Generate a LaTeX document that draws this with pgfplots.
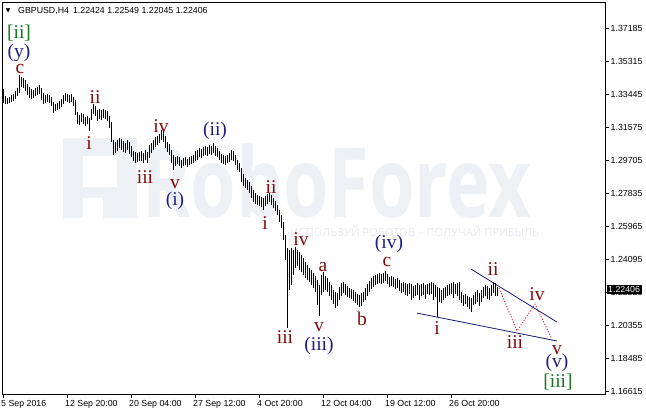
\documentclass[border=0pt]{standalone}
\usepackage{fontspec}
\setmainfont{Liberation Sans}
\newfontfamily\wavefont{Liberation Serif}
\newfontfamily\wmfont{Open Sans}
\newfontfamily\symfont{DejaVu Sans}
\usepackage{pgfplots}
\usepackage{pgfplotstable}
\pgfplotsset{compat=1.18}
\definecolor{wred}{RGB}{135,10,10}
\definecolor{wblue}{RGB}{30,30,135}
\definecolor{wgreen}{RGB}{20,120,30}
\definecolor{wm}{RGB}{237,240,244}
\definecolor{wmtwo}{RGB}{230,233,238}
\definecolor{navyl}{RGB}{25,25,112}
\definecolor{reddot}{RGB}{225,30,60}
\newcommand\wl{\wavefont\fontsize{19.5bp}{20bp}\selectfont}
\newcommand\tl{\fontsize{8.8bp}{10bp}\selectfont}

\pgfplotstableread{
i h l
0 1.3375 1.3296
1 1.3336 1.3290
2 1.3324 1.3290
3 1.3330 1.3296
4 1.3341 1.3302
5 1.3347 1.3307
6 1.3364 1.3319
7 1.3381 1.3336
8 1.3455 1.3353
9 1.3443 1.3387
10 1.3438 1.3381
11 1.3426 1.3364
12 1.3404 1.3341
13 1.3387 1.3324
14 1.3375 1.3319
15 1.3370 1.3324
16 1.3381 1.3336
17 1.3387 1.3341
18 1.3398 1.3347
19 1.3381 1.3313
20 1.3353 1.3290
21 1.3341 1.3296
22 1.3347 1.3302
23 1.3341 1.3296
24 1.3330 1.3279
25 1.3302 1.3239
26 1.3290 1.3251
27 1.3296 1.3256
28 1.3307 1.3262
29 1.3319 1.3273
30 1.3341 1.3290
31 1.3353 1.3307
32 1.3347 1.3302
33 1.3341 1.3296
34 1.3347 1.3302
35 1.3330 1.3279
36 1.3313 1.3228
37 1.3245 1.3177
38 1.3228 1.3172
39 1.3239 1.3188
40 1.3234 1.3177
41 1.3217 1.3166
42 1.3222 1.3177
43 1.3211 1.3138
44 1.3262 1.3200
45 1.3290 1.3234
46 1.3279 1.3222
47 1.3256 1.3194
48 1.3262 1.3205
49 1.3256 1.3200
50 1.3262 1.3211
51 1.3256 1.3205
52 1.3251 1.3194
53 1.3222 1.3155
54 1.3188 1.3075
55 1.3087 1.3002
56 1.3075 1.3013
57 1.3087 1.3024
58 1.3098 1.3041
59 1.3092 1.3030
60 1.3081 1.3019
61 1.3070 1.3013
62 1.3087 1.3030
63 1.3075 1.3007
64 1.3053 1.2990
65 1.3024 1.2968
66 1.3019 1.2956
67 1.3013 1.2962
68 1.3019 1.2968
69 1.3024 1.2968
70 1.3013 1.2956
71 1.3030 1.2973
72 1.3019 1.2956
73 1.3058 1.2985
74 1.3070 1.3013
75 1.3087 1.3030
76 1.3104 1.3047
77 1.3109 1.3058
78 1.3121 1.3070
79 1.3143 1.3087
80 1.3138 1.3075
81 1.3109 1.3041
82 1.3075 1.3019
83 1.3064 1.3002
84 1.3030 1.2956
85 1.3002 1.2917
86 1.2990 1.2939
87 1.2996 1.2951
88 1.2990 1.2939
89 1.2973 1.2928
90 1.2985 1.2939
91 1.2990 1.2945
92 1.2979 1.2934
93 1.2990 1.2945
94 1.2996 1.2951
95 1.3002 1.2956
96 1.3024 1.2968
97 1.3030 1.2973
98 1.3041 1.2990
99 1.3036 1.2985
100 1.3047 1.2996
101 1.3053 1.3002
102 1.3047 1.2996
103 1.3058 1.3007
104 1.3053 1.3002
105 1.3070 1.3013
106 1.3053 1.2996
107 1.3041 1.2990
108 1.3024 1.2973
109 1.3007 1.2956
110 1.3002 1.2951
111 1.2996 1.2945
112 1.3002 1.2956
113 1.3013 1.2962
114 1.3030 1.2973
115 1.3024 1.2968
116 1.3002 1.2945
117 1.2973 1.2917
118 1.2956 1.2905
119 1.2928 1.2849
120 1.2894 1.2826
121 1.2872 1.2815
122 1.2860 1.2804
123 1.2849 1.2787
124 1.2826 1.2758
125 1.2804 1.2736
126 1.2787 1.2724
127 1.2775 1.2719
128 1.2770 1.2713
129 1.2764 1.2707
130 1.2758 1.2690
131 1.2770 1.2713
132 1.2781 1.2724
133 1.2787 1.2736
134 1.2775 1.2719
135 1.2758 1.2702
136 1.2741 1.2685
137 1.2719 1.2662
138 1.2690 1.2622
139 1.2662 1.2589
140 1.2622 1.2521
141 1.2549 1.2407
142 1.2475 1.2023
143 1.2464 1.2238
144 1.2475 1.2266
145 1.2464 1.2323
146 1.2481 1.2362
147 1.2464 1.2373
148 1.2453 1.2351
149 1.2436 1.2340
150 1.2419 1.2323
151 1.2396 1.2306
152 1.2379 1.2294
153 1.2362 1.2283
154 1.2351 1.2266
155 1.2334 1.2249
156 1.2317 1.2226
157 1.2294 1.2153
158 1.2266 1.2090
159 1.2323 1.2209
160 1.2340 1.2226
161 1.2317 1.2238
162 1.2306 1.2226
163 1.2283 1.2204
164 1.2266 1.2181
165 1.2238 1.2158
166 1.2226 1.2136
167 1.2221 1.2147
168 1.2255 1.2181
169 1.2277 1.2204
170 1.2283 1.2221
171 1.2272 1.2209
172 1.2260 1.2198
173 1.2249 1.2192
174 1.2243 1.2187
175 1.2238 1.2175
176 1.2226 1.2164
177 1.2215 1.2153
178 1.2209 1.2141
179 1.2221 1.2147
180 1.2226 1.2170
181 1.2249 1.2181
182 1.2272 1.2204
183 1.2289 1.2226
184 1.2306 1.2243
185 1.2317 1.2255
186 1.2323 1.2266
187 1.2328 1.2272
188 1.2334 1.2277
189 1.2328 1.2272
190 1.2334 1.2277
191 1.2345 1.2289
192 1.2328 1.2272
193 1.2311 1.2255
194 1.2317 1.2260
195 1.2311 1.2255
196 1.2300 1.2243
197 1.2306 1.2249
198 1.2294 1.2232
199 1.2277 1.2221
200 1.2283 1.2226
201 1.2277 1.2209
202 1.2272 1.2204
203 1.2277 1.2215
204 1.2272 1.2181
205 1.2260 1.2192
206 1.2266 1.2204
207 1.2277 1.2209
208 1.2266 1.2181
209 1.2272 1.2204
210 1.2277 1.2209
211 1.2266 1.2187
212 1.2272 1.2215
213 1.2277 1.2209
214 1.2283 1.2215
215 1.2277 1.2181
216 1.2266 1.2198
217 1.2255 1.2085
218 1.2249 1.2170
219 1.2238 1.2164
220 1.2249 1.2181
221 1.2255 1.2192
222 1.2266 1.2204
223 1.2272 1.2209
224 1.2277 1.2215
225 1.2283 1.2192
226 1.2272 1.2215
227 1.2277 1.2204
228 1.2283 1.2181
229 1.2226 1.2164
230 1.2209 1.2147
231 1.2215 1.2158
232 1.2204 1.2141
233 1.2198 1.2130
234 1.2192 1.2113
235 1.2209 1.2153
236 1.2226 1.2158
237 1.2238 1.2170
238 1.2221 1.2147
239 1.2238 1.2170
240 1.2255 1.2192
241 1.2266 1.2204
242 1.2260 1.2187
243 1.2249 1.2181
244 1.2266 1.2204
245 1.2283 1.2221
246 1.2277 1.2204
247 1.22549 1.22045
}\bars

\begin{document}
\begin{tikzpicture}
\useasboundingbox (-2.5bp,-19.7bp) rectangle (643.5bp,394.3bp);
% watermark
\begin{scope}[x=1bp,y=1bp]
  \fill[wm] (60.5,176.3) rectangle (134.5,256.3);
  \fill[white] (80,207) rectangle (114,238);
  \fill[white] (80,176.3) rectangle (100,196);
  \node[anchor=base west, inner sep=0, text=wm, xscale=0.76] at (139.5,177.3)
    {\wmfont\fontsize{97bp}{97bp}\selectfont\bfseries RoboForex};
  \node[anchor=west, inner sep=0, text=wmtwo] at (287.5,163.3)
    {\wmfont\fontsize{11.2bp}{12bp}\selectfont ИСПОЛЬЗУЙ РОБОТОВ – ПОЛУЧАЙ ПРИБЫЛЬ};
\end{scope}
\begin{axis}[
  at={(0bp,0bp)}, anchor=south west,
  scale only axis, width=602.5bp, height=392bp,
  xmin=-0.25, xmax=301, ymin=1.16473, ymax=1.3866,
  axis line style={line width=0.8bp},
  tick align=outside, xtick pos=left, ytick pos=right,
  major tick length=3.5bp,
  tick style={black, line width=0.8bp},
  xtick={0,32,64,96,128,160,192,224},
  xticklabels={5 Sep 2016,12 Sep 20:00,20 Sep 04:00,27 Sep 12:00,4 Oct 20:00,12 Oct 04:00,19 Oct 12:00,26 Oct 20:00},
  ytick={1.16615,1.18485,1.20355,1.22225,1.24095,1.25965,1.27835,1.29705,1.31575,1.33445,1.35315,1.37185},
  yticklabels={1.16615,1.18485,1.20355,1.22225,1.24095,1.25965,1.27835,1.29705,1.31575,1.33445,1.35315,1.37185},
  ticklabel style={font=\tl},
  xticklabel style={anchor=north west, inner sep=0pt, xshift=-2bp, yshift=-2bp},
  yticklabel style={anchor=west, inner sep=0pt, xshift=2bp},
  clip=false,
]
\addplot[black, line width=0.6bp, quiver={u=0, v=\thisrow{h}-\thisrow{l}}] table[x=i, y=l] {\bars};

\addplot[navyl, line width=0.8bp] coordinates {(234,1.2356) (277,1.2056)};
\addplot[navyl, line width=0.8bp] coordinates {(207,1.2107) (277,1.1949)};
\addplot[reddot, line width=0.8bp, dash pattern=on 1.2bp off 1.6bp] coordinates {(248,1.2249) (257,1.2006) (266,1.2158) (274.5,1.1960)};

% header
\node[inner sep=0] at (rel axis cs:0.0095,0.978) {\symfont\fontsize{6bp}{6bp}\selectfont ▼};
\node[anchor=west, inner sep=0] at (rel axis cs:0.0257,0.978) {\tl GBPUSD,H4\hspace{4bp}1.22424 1.22549 1.22045 1.22406};

% price box
\node[fill=black, text=white, anchor=west, inner xsep=1.5bp, inner ysep=1.3bp, xshift=1.5bp] at (axis cs:301,1.22406) {\tl 1.22406};

% wave labels
\node[wgreen, font=\wl] at (axis cs:8,1.3692) {[ii]};
\node[wblue, font=\wl] at (axis cs:8,1.3579) {(y)};
\node[wred, font=\wl] at (axis cs:8.5,1.3488) {c};
\node[wred, font=\wl] at (axis cs:46,1.3330) {ii};
\node[wred, font=\wl] at (axis cs:43,1.3070) {i};
\node[wred, font=\wl] at (axis cs:71,1.2877) {iii};
\node[wred, font=\wl] at (axis cs:79,1.3166) {iv};
\node[wred, font=\wl] at (axis cs:86,1.2838) {v};
\node[wblue, font=\wl] at (axis cs:86,1.2741) {(i)};
\node[wblue, font=\wl] at (axis cs:106,1.3138) {(ii)};
\node[wred, font=\wl] at (axis cs:134,1.2821) {ii};
\node[wred, font=\wl] at (axis cs:131,1.2617) {i};
\node[wred, font=\wl] at (axis cs:141,1.1972) {iii};
\node[wred, font=\wl] at (axis cs:149,1.2526) {iv};
\node[wred, font=\wl] at (axis cs:160,1.2368) {a};
\node[wred, font=\wl] at (axis cs:158,1.2028) {v};
\node[wblue, font=\wl] at (axis cs:158,1.1921) {(iii)};
\node[wred, font=\wl] at (axis cs:179.5,1.2073) {b};
\node[wred, font=\wl] at (axis cs:192,1.2396) {c};
\node[wblue, font=\wl] at (axis cs:193,1.2498) {(iv)};
\node[wred, font=\wl] at (axis cs:217,1.2023) {i};
\node[wred, font=\wl] at (axis cs:245,1.2356) {ii};
\node[wred, font=\wl] at (axis cs:256,1.1943) {iii};
\node[wred, font=\wl] at (axis cs:267,1.2215) {iv};
\node[wred, font=\wl] at (axis cs:277,1.1898) {v};
\node[wblue, font=\wl] at (axis cs:277,1.1824) {(v)};
\node[wgreen, font=\wl] at (axis cs:277.5,1.1717) {[iii]};
\end{axis}
\end{tikzpicture}
\end{document}
